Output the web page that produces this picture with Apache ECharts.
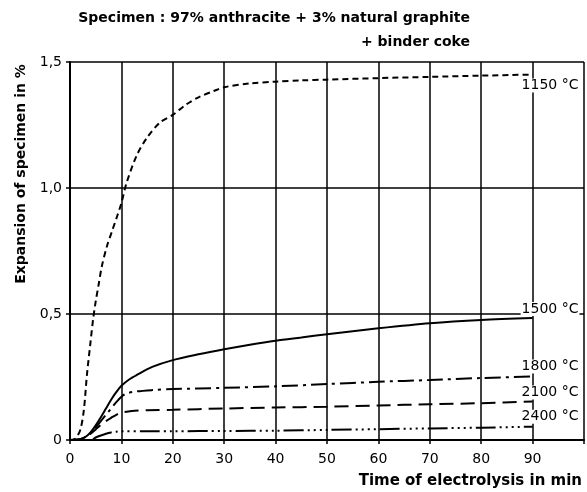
<!DOCTYPE html>
<html>
<head>
<meta charset="utf-8">
<script src="https://cdn.jsdelivr.net/npm/echarts@6/dist/echarts.min.js"></script>
<style>
    html, body { margin: 0; padding: 0; background: #fff; }
</style>
</head>
<body>
    <!-- chart container -->
    <div id="main" style="width: 587px;height:492px;"></div>
<script type="text/javascript">
    // data: [time in min, expansion in %]
    var titleLines = ['Specimen : 97% anthracite + 3% natural graphite', '+ binder coke'];
    var xTicks = [0, 10, 20, 30, 40, 50, 60, 70, 80, 90];
    var yTicks = ['0', '0,5', '1,0', '1,5'];
    var seriesNames = ['1150 °C', '1500 °C', '1800 °C', '2100 °C', '2400 °C'];

    var t1150 = [[0,0],[1,0.005],[2,0.04],[2.7,0.12],[3.3,0.26],[4,0.39],[4.5,0.48],[5,0.55],[5.6,0.62],[6.2,0.69],[7.2,0.77],[8.2,0.83],[9.2,0.89],[10,0.94],[11,1.02],[13,1.13],[15,1.2],[17.5,1.26],[20,1.29],[22.5,1.33],[25,1.36],[28,1.385],[30,1.4],[35,1.415],[40,1.422],[45,1.427],[50,1.43],[60,1.436],[70,1.441],[80,1.446],[90,1.45]];
    var t1500 = [[0,0],[2,0.003],[3,0.012],[4,0.03],[5,0.058],[6,0.09],[7,0.125],[8,0.16],[9,0.19],[10,0.215],[11.5,0.24],[13,0.258],[16,0.29],[20,0.317],[25,0.34],[30,0.36],[35,0.378],[40,0.394],[45,0.407],[50,0.42],[60,0.443],[70,0.463],[80,0.476],[90,0.484]];
    var t1800 = [[0,0],[2,0.003],[3,0.012],[4,0.028],[5,0.05],[6,0.075],[7,0.1],[8,0.125],[9,0.15],[10,0.172],[11,0.185],[13,0.193],[16,0.198],[20,0.202],[30,0.207],[40,0.213],[50,0.222],[60,0.231],[70,0.238],[80,0.246],[90,0.252]];
    var t2100 = [[0,0],[2,0.003],[3,0.01],[4,0.025],[5,0.042],[6,0.06],[7,0.075],[8,0.088],[9,0.1],[10,0.108],[12,0.115],[15,0.118],[20,0.12],[30,0.125],[40,0.129],[50,0.132],[60,0.137],[70,0.142],[80,0.146],[90,0.153]];
    var t2400 = [[4.5,0.003],[5,0.01],[6,0.018],[7,0.025],[8,0.03],[9,0.033],[10,0.035],[15,0.035],[20,0.035],[30,0.036],[40,0.037],[50,0.04],[60,0.043],[70,0.046],[80,0.049],[90,0.053]];

    var font = 'DejaVu Sans';
    var myChart = echarts.init(document.getElementById('main'));

    function endLbl(name, dy) {
        return {
            show: true,
            formatter: name,
            distance: 0,
            offset: [-12, dy],
            color: '#000',
            fontFamily: font,
            fontSize: 14,
            backgroundColor: '#fff',
            padding: [0, 1]
        };
    }

    function line(name, data, dash, dy) {
        return {
            name: name,
            type: 'line',
            data: data,
            smooth: 0.3,
            symbol: 'none',
            lineStyle: { color: '#000', width: 2, type: dash },
            endLabel: endLbl(name, dy),
            z: 3
        };
    }

    var option = {
        animation: false,
        backgroundColor: '#fff',
        title: [
            { text: titleLines[0], right: 112, top: 6,
              textStyle: { fontFamily: font, fontSize: 14, fontWeight: 'bold', color: '#000' } },
            { text: titleLines[1], right: 112, top: 30,
              textStyle: { fontFamily: font, fontSize: 14, fontWeight: 'bold', color: '#000' } }
        ],
        grid: { left: 70, right: 3, top: 62, bottom: 52 },
        xAxis: {
            type: 'value',
            min: 0, max: 100, interval: 10,
            name: 'Time of electrolysis in min',
            nameLocation: 'end',
            nameGap: 0,
            nameTextStyle: { fontFamily: font, fontSize: 15, fontWeight: 'bold', color: '#000', align: 'right', verticalAlign: 'top', padding: [34, 2, 0, 0] },
            axisLine: { lineStyle: { color: '#000', width: 2 } },
            axisTick: { show: true, length: 4, lineStyle: { color: '#000', width: 1.5 } },
            axisLabel: {
                fontFamily: font, fontSize: 14, color: '#000', margin: 12,
                formatter: function (v) { return xTicks.indexOf(v) >= 0 ? String(v) : ''; }
            },
            splitLine: { show: true, lineStyle: { color: '#000', width: 1.5 } }
        },
        yAxis: {
            type: 'value',
            min: 0, max: 1.5, interval: 0.5,
            name: 'Expansion of specimen in %',
            nameLocation: 'middle',
            nameGap: 42,
            nameRotate: 90,
            nameTextStyle: { fontFamily: font, fontSize: 14, fontWeight: 'bold', color: '#000', padding: [0, 0, 0, 154] },
            axisLine: { show: true, lineStyle: { color: '#000', width: 2 } },
            axisTick: { show: true, length: 4, lineStyle: { color: '#000', width: 1.5 } },
            axisLabel: {
                fontFamily: font, fontSize: 14, color: '#000', margin: 8,
                formatter: function (v) { return yTicks[Math.round(v / 0.5)]; }
            },
            splitLine: { show: true, lineStyle: { color: '#000', width: 1.5 } }
        },
        series: [
            line(seriesNames[0], t1150, [6, 4], 11),
            line(seriesNames[1], t1500, 'solid', -9),
            line(seriesNames[2], t1800, [16, 5, 3, 5], -10),
            line(seriesNames[3], t2100, [14, 7], -9),
            line(seriesNames[4], t2400, [20, 4, 2, 4, 2, 4, 2, 4, 2, 4], -10)
        ]
    };

    myChart.setOption(option);
</script>
</body>
</html>
